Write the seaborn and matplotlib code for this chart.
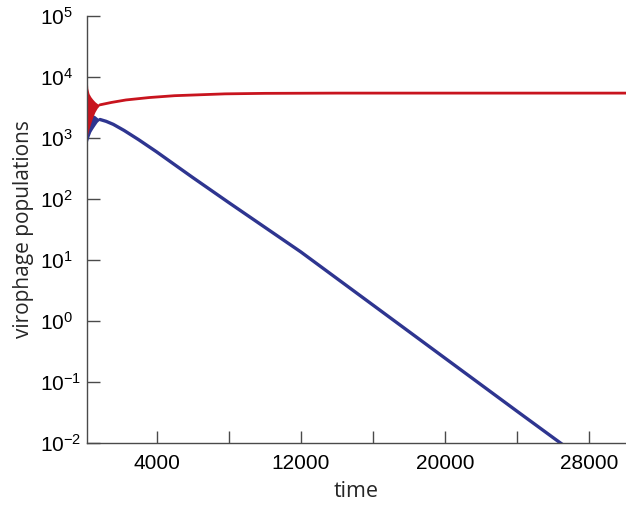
import numpy as np
import pandas as pd
import matplotlib
matplotlib.use("Agg")
import matplotlib.pyplot as plt
from matplotlib.ticker import NullLocator
import seaborn as sns

# early transient: the populations oscillate fast, drawn as an envelope band
trans_time = [140, 180, 250, 350, 450, 580, 700, 860]
red_upper = [10000, 6500, 5300, 4700, 4300, 3900, 3650, 3470]
red_lower = [1000, 1150, 1400, 1750, 2150, 2650, 3050, 3470]
blue_upper = [2600, 2600, 2550, 2500, 2400, 2300, 2150, 1995]
blue_lower = [800, 900, 1050, 1250, 1400, 1600, 1800, 1995]

# after the transient
red_time = [860, 1500, 2300, 3600, 5000, 7800, 10000, 14000, 20000, 30050]
red_pop = [3470, 3800, 4170, 4570, 4900, 5250, 5350, 5400, 5400, 5400]

blue_time = [860, 1200, 1600, 2200, 3000, 4000, 5000, 6000, 8000, 12000,
             16000, 20000, 24000, 26400, 28000]
blue_pop = [1995, 1862, 1660, 1318, 933, 589, 363, 224, 87, 13.5,
            1.82, 0.245, 0.033, 0.01, 0.0045]

x_ticks = [4000, 8000, 12000, 16000, 20000, 24000, 28000]
x_labels = ["4000", "", "12000", "", "20000", "", "28000"]
y_ticks = [1e-2, 1e-1, 1e0, 1e1, 1e2, 1e3, 1e4, 1e5]

RED = "#c8141e"
BLUE = "#2e3590"
AXIS_GREY = "#4a4a4a"

sns.set_theme(style="ticks")
plt.rcParams.update({
    "font.family": ["Liberation Sans", "DejaVu Sans"],
    "mathtext.fontset": "custom",
    "mathtext.rm": "Liberation Sans",
    "mathtext.it": "Liberation Sans:italic",
    "mathtext.bf": "Liberation Sans:bold",
    "axes.edgecolor": AXIS_GREY,
    "axes.linewidth": 1.0,
    "xtick.color": AXIS_GREY,
    "ytick.color": AXIS_GREY,
    "xtick.labelcolor": "black",
    "ytick.labelcolor": "black",
})

fig = plt.figure(figsize=(6.26, 5.09), dpi=100)
ax = fig.add_axes([0.139, 0.130, 0.861, 0.839])

ax.set_yscale("log")

# transient bands (blue under red)
ax.fill_between(trans_time, blue_lower, blue_upper, color=BLUE, lw=0)
ax.fill_between(trans_time, red_lower, red_upper, color=RED, lw=0)

blue_df = pd.DataFrame({"time": blue_time, "pop": blue_pop})
red_df = pd.DataFrame({"time": red_time, "pop": red_pop})
sns.lineplot(data=blue_df, x="time", y="pop", color=BLUE, lw=2.4,
             estimator=None, sort=False, ax=ax)
sns.lineplot(data=red_df, x="time", y="pop", color=RED, lw=2.0,
             estimator=None, sort=False, ax=ax)

ax.set_xlim(140, 30050)
ax.set_ylim(1e-2, 1e5)

ax.set_xticks(x_ticks)
ax.set_xticklabels(x_labels)
ax.set_yticks(y_ticks)
ax.yaxis.set_minor_locator(NullLocator())
ax.xaxis.set_minor_locator(NullLocator())

ax.tick_params(axis="both", direction="in", length=9, width=1.0, labelsize=15)
ax.tick_params(axis="x", pad=8)
ax.tick_params(axis="y", pad=34)
for lab in ax.get_yticklabels():
    lab.set_horizontalalignment("left")

ax.set_xlabel("time", fontsize=15.5, family=["Open Sans", "DejaVu Sans"], labelpad=6)
ax.set_ylabel("virophage populations", fontsize=15, family=["Open Sans", "DejaVu Sans"], labelpad=4)

sns.despine(ax=ax)
ax.grid(False)

fig.savefig("out.png", dpi=100)
